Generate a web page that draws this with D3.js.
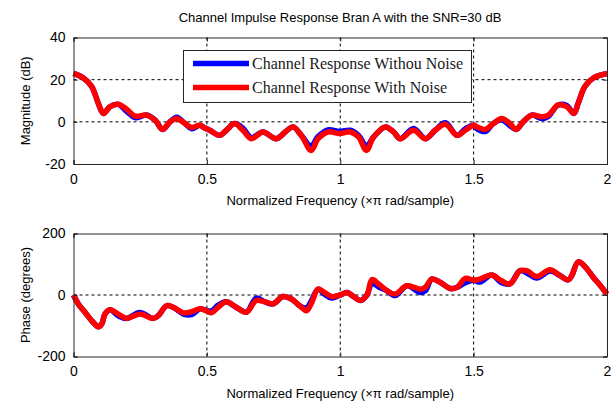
<!DOCTYPE html>
<html>
<head>
<meta charset="utf-8">
<script src="https://cdn.jsdelivr.net/npm/d3@7"></script>
<style>
  body { margin: 0; background: #fff; }
  svg { display: block; font-family: "Liberation Sans", Arial, sans-serif; }
</style>
</head>
<body>
<div id="plot"></div>
<script>
const width = 613
const height = 408

// top plot: magnitude (dB)
const magFreq = [0, 0.037, 0.068, 0.093, 0.112, 0.137, 0.168, 0.199, 0.231, 0.274, 0.306, 0.334, 0.362, 0.387, 0.418, 0.443, 0.474, 0.49, 0.511, 0.548, 0.573, 0.604, 0.635, 0.667, 0.71, 0.76, 0.798, 0.823, 0.854, 0.891, 0.917, 0.954, 0.998, 1.038, 1.069, 1.098, 1.125, 1.169, 1.2, 1.225, 1.275, 1.319, 1.356, 1.394, 1.438, 1.469, 1.5, 1.512, 1.543, 1.574, 1.605, 1.636, 1.659, 1.686, 1.718, 1.755, 1.78, 1.817, 1.849, 1.876, 1.892, 1.917, 1.949, 2.0]
const magNoisy = [23, 20.8, 16.8, 8.8, 4.0, 7.2, 8.3, 6.0, 2.7, 3.2, 0.8, -3.6, 0, 1.6, -0.8, -2.7, -1.6, -2.8, -4, -6.4, -4, -0.8, -4, -8, -4.8, -8, -4.3, -2.4, -6.4, -13.6, -8, -4.8, -5.6, -4.8, -7.2, -13.6, -7.2, -2.4, -4.8, -8, -4, -8, -4, -1.1, -6.4, -4, -1.6, -2.4, -3.6, -0.8, 1.6, -0.8, -3.6, 0, 3.2, 2.4, 3.2, 8, 7.2, 4, 8.8, 16.8, 20.8, 22.9]
const magClean = [23, 20.8, 16.8, 8.8, 4.0, 7.2, 8.3, 5.0, 2.0, 3.2, 0.8, -3.6, 0, 2.2, -0.8, -3.3, -1.6, -2.8, -4, -6.4, -4, -0.8, -3, -7.5, -4.8, -8, -4.3, -2.4, -6.4, -11.5, -7, -3.8, -4.6, -4, -6.5, -11.5, -7.2, -2.4, -4.8, -8, -3.2, -8, -4, -0.4, -6.4, -3.3, -1.6, -3.2, -4.6, -0.8, 1.0, -1.8, -3.6, 0, 3.2, 1.6, 2.6, 8, 7.8, 4, 8.8, 16.8, 20.8, 22.9]

// bottom plot: phase (degrees)
const phaseFreq = [0, 0.018, 0.043, 0.068, 0.093, 0.106, 0.118, 0.137, 0.168, 0.199, 0.249, 0.299, 0.318, 0.349, 0.374, 0.412, 0.443, 0.474, 0.49, 0.517, 0.542, 0.573, 0.61, 0.648, 0.685, 0.717, 0.748, 0.785, 0.817, 0.848, 0.873, 0.891, 0.917, 0.942, 0.967, 1.0, 1.025, 1.05, 1.075, 1.1, 1.119, 1.144, 1.175, 1.206, 1.25, 1.3, 1.319, 1.344, 1.375, 1.413, 1.438, 1.469, 1.5, 1.524, 1.568, 1.605, 1.636, 1.674, 1.699, 1.737, 1.786, 1.824, 1.855, 1.868, 1.892, 1.917, 1.949, 1.974, 2.0]
const phaseNoisy = [0, -29, -56, -83, -103, -94, -62, -48, -62, -76, -62, -76, -67, -35, -40, -58, -54, -45, -48, -58, -40, -22, -40, -56, -18, -22, -29, -5, -13, -35, -51, -29, 19, 8, -5, 0, 8, -5, -18, 0, 50, 36, 14, 3, 30, 19, 25, 52, 41, 21, 25, 54, 48, 52, 65, 46, 36, 79, 79, 60, 82, 63, 49, 63, 108, 93, 57, 32, 3]
const phaseClean = [0, -29, -56, -83, -103, -94, -62, -48, -68, -76, -57, -76, -67, -35, -40, -62, -64, -45, -48, -52, -33, -22, -40, -56, -10, -22, -29, -5, -13, -35, -42, -20, 19, 2, -10, 0, 8, -5, -18, 0, 38, 26, 14, -2, 30, 8, 14, 52, 41, 21, 25, 40, 48, 42, 65, 40, 36, 79, 72, 55, 78, 63, 49, 63, 108, 93, 57, 32, 3]

const freqTicks = [0, 0.5, 1, 1.5, 2]
const magTicks = [-20, 0, 20, 40]
const phaseTicks = [-200, 0, 200]
const legendLabels = ["Channel Response Withou Noise", "Channel Response With Noise"]
const colors = ["#0000ff", "#ff0000"]

const plotLeft = 73.5, plotRight = 607

const svg = d3.select("#plot")
  .append("svg")
  .attr("width", width)
  .attr("height", height)

function drawPanel(top, bottom, yDomain, yTicks, gridY, freq, clean, noisy, yLabel) {
  const x = d3.scaleLinear().domain([0, 2]).range([plotLeft, plotRight])
  const y = d3.scaleLinear().domain(yDomain).range([bottom, top])
  const g = svg.append("g")

  // dashed grid
  g.selectAll(".gx").data(freqTicks.slice(1, -1)).join("line")
    .attr("x1", d => x(d)).attr("x2", d => x(d))
    .attr("y1", top).attr("y2", bottom)
    .attr("stroke", "#000").attr("stroke-width", 1).attr("stroke-dasharray", "3,3")
  g.selectAll(".gy").data(gridY).join("line")
    .attr("x1", plotLeft).attr("x2", plotRight)
    .attr("y1", d => y(d)).attr("y2", d => y(d))
    .attr("stroke", "#000").attr("stroke-width", 1).attr("stroke-dasharray", "3,3")

  const line = d3.line()
    .x(d => x(d[0]))
    .y(d => y(d[1]))
    .curve(d3.curveCatmullRom.alpha(0.5))

  g.append("path")
    .attr("d", line(freq.map((f, i) => [f, clean[i]])))
    .attr("fill", "none").attr("stroke", colors[0])
    .attr("stroke-width", 5.5).attr("stroke-linejoin", "round")
  g.append("path")
    .attr("d", line(freq.map((f, i) => [f, noisy[i]])))
    .attr("fill", "none").attr("stroke", colors[1])
    .attr("stroke-width", 5.5).attr("stroke-linejoin", "round")

  // axes, matlab style ticks pointing inward
  const fmt = d => String(d)
  g.append("g").attr("transform", `translate(0,${bottom})`)
    .call(d3.axisBottom(x).tickValues(freqTicks).tickSize(-4).tickPadding(10).tickFormat(fmt))
  g.append("g").attr("transform", `translate(0,${top})`)
    .call(d3.axisTop(x).tickValues(freqTicks).tickSize(-4).tickFormat(""))
  g.append("g").attr("transform", `translate(${plotLeft},0)`)
    .call(d3.axisLeft(y).tickValues(yTicks).tickSize(-4).tickPadding(8).tickFormat(fmt))
  g.append("g").attr("transform", `translate(${plotRight},0)`)
    .call(d3.axisRight(y).tickValues(yTicks).tickSize(-4).tickFormat(""))
  g.selectAll(".domain").attr("stroke", "#262626").attr("stroke-width", 1)
  g.selectAll(".tick line").attr("stroke", "#262626")
  g.selectAll(".tick text").attr("font-size", 14).attr("fill", "#000")
    .attr("font-family", "Liberation Sans, Arial, sans-serif")

  g.append("text")
    .attr("x", (plotLeft + plotRight) / 2)
    .attr("y", bottom + 41)
    .attr("text-anchor", "middle")
    .attr("font-size", 13)
    .text("Normalized Frequency  (\u00d7\u03c0 rad/sample)")

  g.append("text")
    .attr("transform", `translate(30,${(top + bottom) / 2}) rotate(-90)`)
    .attr("text-anchor", "middle")
    .attr("font-size", 13)
    .text(yLabel)
  return g
}

drawPanel(37.5, 164, [-20, 40], magTicks, [0, 20], magFreq, magClean, magNoisy, "Magnitude (dB)")
drawPanel(233.5, 356.5, [-200, 200], phaseTicks, [0], phaseFreq, phaseClean, phaseNoisy, "Phase (degrees)")

svg.append("text")
  .attr("x", 340)
  .attr("y", 22)
  .attr("text-anchor", "middle")
  .attr("font-size", 13)
  .text("Channel Impulse Response Bran A with the SNR=30 dB")

// legend
const legend = svg.append("g")
legend.append("rect")
  .attr("x", 183.5).attr("y", 50.5).attr("width", 288).attr("height", 52)
  .attr("fill", "#fff").attr("stroke", "#262626").attr("stroke-width", 1)
legendLabels.forEach((lab, i) => {
  const yy = 63.5 + i * 24
  legend.append("line")
    .attr("x1", 193).attr("x2", 249).attr("y1", yy).attr("y2", yy)
    .attr("stroke", colors[i]).attr("stroke-width", 5.5)
  legend.append("text")
    .attr("x", 252).attr("y", yy + 5)
    .attr("font-family", "Liberation Serif, Times New Roman, serif")
    .attr("font-size", 16)
    .attr("fill", "#1a1a1a")
    .text(lab)
})
</script>
</body>
</html>
